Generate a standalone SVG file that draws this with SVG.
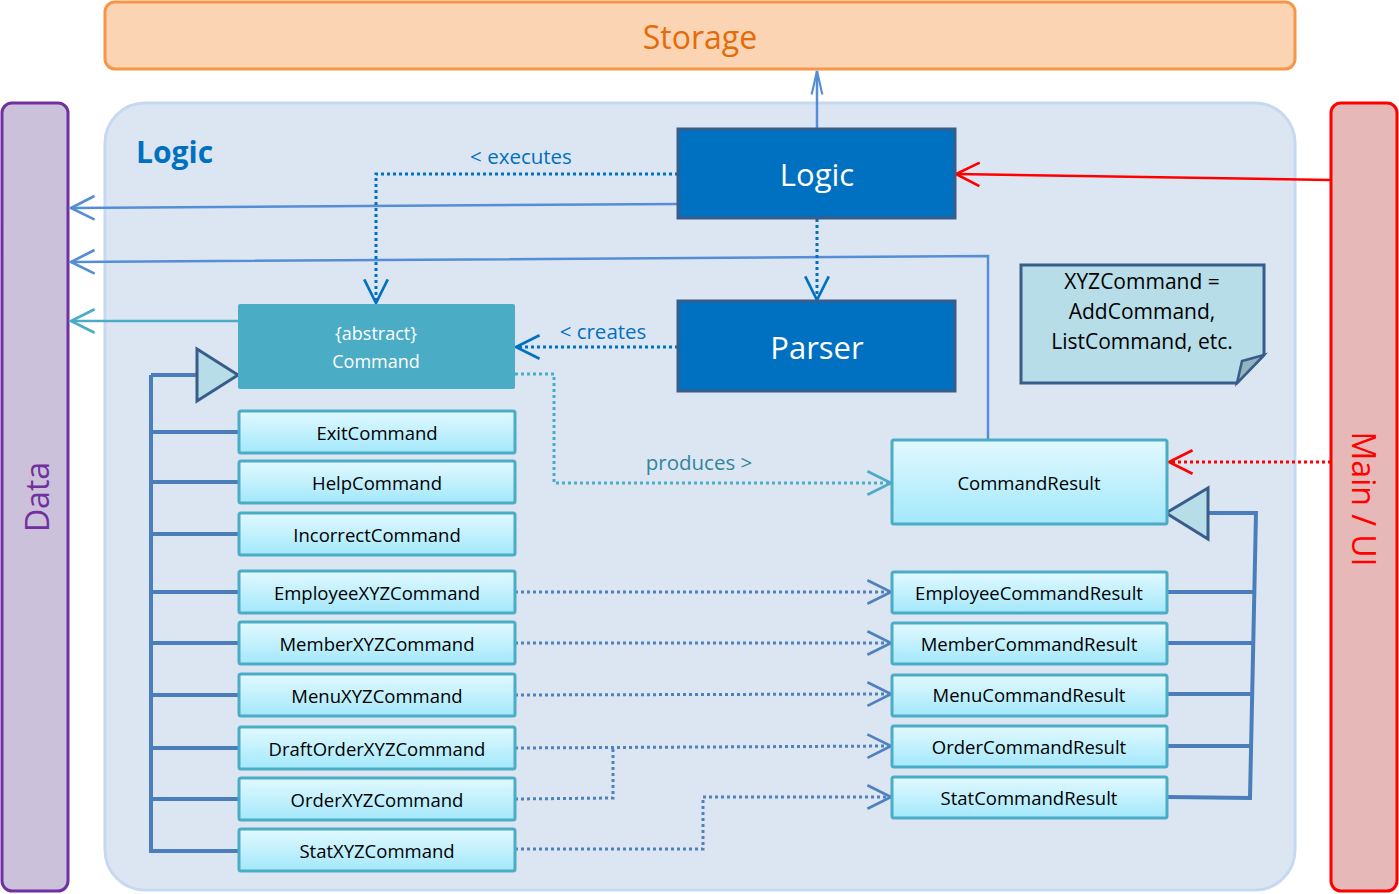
<svg xmlns="http://www.w3.org/2000/svg" width="1399" height="894" viewBox="0 0 1399 894">
<defs>
<linearGradient id="cls" x1="0" y1="0" x2="0" y2="1">
<stop offset="0" stop-color="#E2F9FF"/>
<stop offset="1" stop-color="#A3E8FB"/>
</linearGradient>
<marker id="aBlue" markerUnits="userSpaceOnUse" markerWidth="30" markerHeight="30" viewBox="-24 -13 28 26" refX="0" refY="0" orient="auto">
<path d="M -22 -11 L 0 0 L -22 11" fill="none" stroke="#558ED5" stroke-width="2.5"/>
</marker>
<marker id="aBlueN" markerUnits="userSpaceOnUse" markerWidth="30" markerHeight="30" viewBox="-24 -13 28 26" refX="0" refY="0" orient="auto">
<path d="M -22 -5 L 0 0 L -22 5" fill="none" stroke="#558ED5" stroke-width="2"/>
</marker>
<marker id="aTeal" markerUnits="userSpaceOnUse" markerWidth="30" markerHeight="30" viewBox="-24 -13 28 26" refX="0" refY="0" orient="auto">
<path d="M -22 -11 L 0 0 L -22 11" fill="none" stroke="#4BACC6" stroke-width="2.5"/>
</marker>
<marker id="aDark" markerUnits="userSpaceOnUse" markerWidth="30" markerHeight="30" viewBox="-24 -13 28 26" refX="0" refY="0" orient="auto">
<path d="M -22 -11 L 0 0 L -22 11" fill="none" stroke="#0070C0" stroke-width="2.5"/>
</marker>
<marker id="aRed" markerUnits="userSpaceOnUse" markerWidth="30" markerHeight="30" viewBox="-24 -13 28 26" refX="0" refY="0" orient="auto">
<path d="M -22 -11 L 0 0 L -22 11" fill="none" stroke="#FF0000" stroke-width="2.5"/>
</marker>
<marker id="aRes" markerUnits="userSpaceOnUse" markerWidth="30" markerHeight="30" viewBox="-24 -13 28 26" refX="0" refY="0" orient="auto">
<path d="M -22 -11 L 0 0 L -22 11" fill="none" stroke="#4F81BD" stroke-width="2.5"/>
</marker>
</defs>
<style>
text { font-family: "Open Sans", "Noto Sans", sans-serif; }
.cls rect { fill: url(#cls); stroke: #4BACC6; stroke-width: 3; }
.cls text { font-size: 18.5px; fill: #000; text-anchor: middle; dominant-baseline: central; }
.big rect { fill: #0070C0; stroke: #385D8A; stroke-width: 3; }
.big text { font-size: 31px; fill: #fff; text-anchor: middle; dominant-baseline: central; }
.solid { fill: none; stroke: #558ED5; stroke-width: 2.5; }
.dot { fill: none; stroke-width: 3; stroke-dasharray: 3 3; }
.tree { fill: none; stroke: #4A7EBB; stroke-width: 4; }
.lbl { font-size: 20.5px; text-anchor: middle; }
</style>

<g id="storage">
<rect x="105" y="2" width="1190" height="67" rx="10" fill="#FBD4B4" stroke="#F79646" stroke-width="3"/>
<text x="700" y="36" font-size="32" fill="#E36C09" text-anchor="middle" dominant-baseline="central">Storage</text>
</g>

<g id="logic-component">
<rect x="105" y="103" width="1190" height="787" rx="40" fill="#DCE6F2" stroke="#C6D9F1" stroke-width="3"/>
<text x="136" y="151" font-size="30" font-weight="bold" fill="#0070C0" dominant-baseline="central">Logic</text>
</g>

<g id="data">
<rect x="2" y="103" width="66" height="788" rx="10" fill="#CCC1DA" stroke="#7030A0" stroke-width="3"/>
<text transform="translate(36,497) rotate(-90)" font-size="32" fill="#7030A0" text-anchor="middle" dominant-baseline="central">Data</text>
</g>

<g id="main-ui">
<rect x="1331" y="103" width="66" height="788" rx="10" fill="#E6B9B8" stroke="#FF0000" stroke-width="3"/>
<text transform="translate(1364,499) rotate(90)" font-size="32" fill="#FF0000" text-anchor="middle" dominant-baseline="central">Main / UI</text>
</g>

<g id="note">
<path d="M 1021 265 L 1264 265 L 1264 355 L 1237 383 L 1021 383 Z" fill="#B7DDE8" stroke="#385D8A" stroke-width="3"/>
<path d="M 1264 355 L 1242 361 L 1237 383 Z" fill="#93B3BE" stroke="#385D8A" stroke-width="2.5"/>
<text x="1142" y="281" font-size="21" fill="#000" text-anchor="middle" dominant-baseline="central">XYZCommand =</text>
<text x="1142" y="311" font-size="21" fill="#000" text-anchor="middle" dominant-baseline="central">AddCommand,</text>
<text x="1142" y="341" font-size="21" fill="#000" text-anchor="middle" dominant-baseline="central">ListCommand, etc.</text>
</g>

<g id="connectors">
<line x1="817" y1="129" x2="817" y2="71" class="solid" marker-end="url(#aBlueN)"/>
<line x1="678" y1="204" x2="71" y2="208" class="solid" marker-end="url(#aBlue)"/>
<polyline points="988,440 988,256 71,262" class="solid" marker-end="url(#aBlue)"/>
<line x1="238" y1="321" x2="71" y2="321" fill="none" stroke="#4BACC6" stroke-width="2.5" marker-end="url(#aTeal)"/>
<polyline points="678,174 376,174 376,303" class="dot" stroke="#0070C0" marker-end="url(#aDark)"/>
<line x1="817" y1="219" x2="817" y2="300" class="dot" stroke="#0070C0" marker-end="url(#aDark)"/>
<line x1="678" y1="347" x2="516" y2="347" class="dot" stroke="#0070C0" marker-end="url(#aDark)"/>
<polyline points="515,374 554,374 554,483 891,483" class="dot" stroke="#4BACC6" marker-end="url(#aTeal)"/>
<line x1="1331" y1="180" x2="956" y2="174" fill="none" stroke="#FF0000" stroke-width="2.5" marker-end="url(#aRed)"/>
<line x1="1331" y1="462" x2="1169" y2="462" class="dot" stroke="#FF0000" marker-end="url(#aRed)"/>
<line x1="515" y1="592" x2="891" y2="592" class="dot" stroke="#4F81BD" marker-end="url(#aRes)"/>
<line x1="515" y1="643" x2="891" y2="643" class="dot" stroke="#4F81BD" marker-end="url(#aRes)"/>
<line x1="515" y1="695" x2="891" y2="694" class="dot" stroke="#4F81BD" marker-end="url(#aRes)"/>
<line x1="515" y1="748" x2="891" y2="746" class="dot" stroke="#4F81BD" marker-end="url(#aRes)"/>
<polyline points="515,799 613,798 613,748" class="dot" stroke="#4F81BD"/>
<polyline points="515,849 703,849 703,797 891,797" class="dot" stroke="#4F81BD" marker-end="url(#aRes)"/>
<polyline points="151,375 151,851 238,851" class="tree"/>
<line x1="151" y1="375" x2="197" y2="375" class="tree"/>
<line x1="151" y1="432" x2="238" y2="432" class="tree"/>
<line x1="151" y1="482" x2="238" y2="482" class="tree"/>
<line x1="151" y1="534" x2="238" y2="534" class="tree"/>
<line x1="151" y1="592" x2="238" y2="592" class="tree"/>
<line x1="151" y1="643" x2="238" y2="643" class="tree"/>
<line x1="151" y1="695" x2="238" y2="695" class="tree"/>
<line x1="151" y1="748" x2="238" y2="748" class="tree"/>
<line x1="151" y1="799" x2="238" y2="799" class="tree"/>
<polygon points="197,349 238,375 197,401" fill="#B7DDE8" stroke="#385D8A" stroke-width="3" stroke-linejoin="miter"/>
<polyline points="1208,513 1256,513 1250,798 1168,797" class="tree"/>
<line x1="1168" y1="592" x2="1254" y2="592" class="tree"/>
<line x1="1168" y1="643" x2="1253" y2="643" class="tree"/>
<line x1="1168" y1="694" x2="1252" y2="694" class="tree"/>
<line x1="1168" y1="746" x2="1251" y2="746" class="tree"/>
<polygon points="1208,488 1166,513 1208,539" fill="#B7DDE8" stroke="#385D8A" stroke-width="3"/>
<text x="521" y="156" class="lbl" fill="#0070C0" dominant-baseline="central">&lt; executes</text>
<text x="603" y="331" class="lbl" fill="#0070C0" dominant-baseline="central">&lt; creates</text>
<text x="699" y="462" class="lbl" fill="#31859C" dominant-baseline="central">produces &gt;</text>
</g>

<g id="logic" class="big">
<rect x="678" y="129" width="277" height="89"/>
<text x="817" y="174">Logic</text>
</g>
<g id="parser" class="big">
<rect x="678" y="301" width="277" height="90"/>
<text x="817" y="347">Parser</text>
</g>
<g id="command">
<rect x="238" y="304" width="277" height="85" rx="2" fill="#4BACC6"/>
<text x="376" y="333" font-size="18" fill="#fff" text-anchor="middle" dominant-baseline="central">{abstract}</text>
<text x="376" y="361" font-size="18" fill="#fff" text-anchor="middle" dominant-baseline="central">Command</text>
</g>
<g id="exit-command" class="cls"><rect x="239" y="411" width="276" height="42" rx="2"/><text x="377" y="432">ExitCommand</text></g>
<g id="help-command" class="cls"><rect x="239" y="461" width="276" height="42" rx="2"/><text x="377" y="482">HelpCommand</text></g>
<g id="incorrect-command" class="cls"><rect x="239" y="513" width="276" height="42" rx="2"/><text x="377" y="534">IncorrectCommand</text></g>
<g id="employee-command" class="cls"><rect x="239" y="571" width="276" height="42" rx="2"/><text x="377" y="592">EmployeeXYZCommand</text></g>
<g id="member-command" class="cls"><rect x="239" y="622" width="276" height="42" rx="2"/><text x="377" y="643">MemberXYZCommand</text></g>
<g id="menu-command" class="cls"><rect x="239" y="674" width="276" height="42" rx="2"/><text x="377" y="695">MenuXYZCommand</text></g>
<g id="draftorder-command" class="cls"><rect x="239" y="727" width="276" height="42" rx="2"/><text x="377" y="748">DraftOrderXYZCommand</text></g>
<g id="order-command" class="cls"><rect x="239" y="778" width="276" height="42" rx="2"/><text x="377" y="799">OrderXYZCommand</text></g>
<g id="stat-command" class="cls"><rect x="239" y="829" width="276" height="42" rx="2"/><text x="377" y="850">StatXYZCommand</text></g>
<g id="command-result" class="cls"><rect x="892" y="440" width="275" height="84" rx="2"/><text x="1029" y="482">CommandResult</text></g>
<g id="employee-result" class="cls"><rect x="892" y="572" width="275" height="41" rx="2"/><text x="1029" y="592">EmployeeCommandResult</text></g>
<g id="member-result" class="cls"><rect x="892" y="623" width="275" height="41" rx="2"/><text x="1029" y="643">MemberCommandResult</text></g>
<g id="menu-result" class="cls"><rect x="892" y="675" width="275" height="41" rx="2"/><text x="1029" y="694">MenuCommandResult</text></g>
<g id="order-result" class="cls"><rect x="892" y="726" width="275" height="41" rx="2"/><text x="1029" y="746">OrderCommandResult</text></g>
<g id="stat-result" class="cls"><rect x="892" y="777" width="275" height="41" rx="2"/><text x="1029" y="797">StatCommandResult</text></g>
</svg>
